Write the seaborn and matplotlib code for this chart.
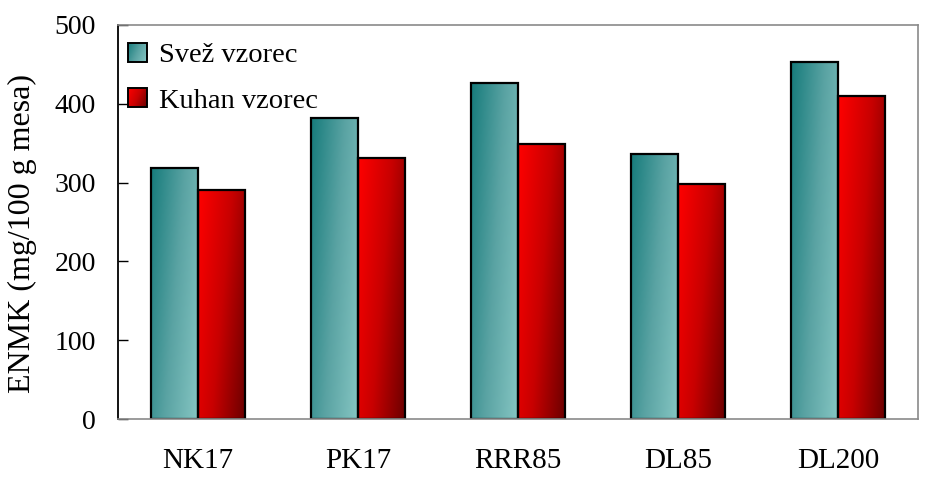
import numpy as np
import pandas as pd
import matplotlib
matplotlib.use("Agg")
import matplotlib.pyplot as plt
import seaborn as sns
from matplotlib.colors import LinearSegmentedColormap
from matplotlib.patches import Rectangle
from matplotlib.image import BboxImage
from matplotlib.transforms import Bbox, TransformedBbox
from matplotlib.legend_handler import HandlerBase

categories = ["NK17", "PK17", "RRR85", "DL85", "DL200"]
fresh = [318, 382, 427, 336, 453]
cooked = [290, 331, 349, 298, 410]
series_names = ["Svež vzorec", "Kuhan vzorec"]
y_ticks = [0, 100, 200, 300, 400, 500]

df = pd.DataFrame({
    "vzorec": categories * 2,
    "serija": [series_names[0]] * len(categories) + [series_names[1]] * len(categories),
    "ENMK": fresh + cooked,
})

teal_cmap = LinearSegmentedColormap.from_list("teal", ["#177c7c", "#5aa3a3", "#86c6c3"])
red_cmap = LinearSegmentedColormap.from_list("red", ["#ff0000", "#c80000", "#6a0000"])
cmaps = {series_names[0]: teal_cmap, series_names[1]: red_cmap}


def diagonal_gradient(n=64):
    xx, yy = np.meshgrid(np.linspace(0, 1, n), np.linspace(0, 1, n))
    # top-left dark/bright, bottom-right light/dark (origin upper)
    return np.clip(0.8 * xx + 0.35 * yy, 0, 1.15) / 1.15


sns.set_theme(style="white")
plt.rcParams["font.family"] = ["Liberation Serif", "DejaVu Serif"]
plt.rcParams["text.color"] = "black"
plt.rcParams["axes.labelcolor"] = "black"

fig = plt.figure(figsize=(9.26, 4.78), dpi=100)
ax = fig.add_axes([0.1274, 0.1234, 0.864, 0.8243])

sns.barplot(data=df, x="vzorec", y="ENMK", hue="serija", order=categories,
            hue_order=series_names, width=0.59, gap=0, ax=ax,
            palette=["#4f9c9c", "#c00000"], edgecolor="black", linewidth=1.6,
            legend=False)

grad = diagonal_gradient()
for i, container in enumerate(ax.containers):
    cmap = cmaps[series_names[i]]
    for bar in container:
        x0, y0 = bar.get_x(), bar.get_y()
        w, h = bar.get_width(), bar.get_height()
        img = ax.imshow(grad, cmap=cmap, vmin=0, vmax=1, origin="upper",
                        extent=[x0, x0 + w, y0, y0 + h], aspect="auto",
                        zorder=bar.get_zorder() + 0.1, interpolation="bilinear")
        img.set_clip_path(bar)
        bar.set_facecolor("none")
        bar.set_zorder(bar.get_zorder() + 0.2)

ax.set_xlim(-0.5, len(categories) - 0.5)
ax.set_ylim(0, 500)
ax.set_yticks(y_ticks)
ax.tick_params(axis="y", which="major", direction="in", length=7.5, width=1.0,
               color="black", labelsize=20, pad=16, left=True,
               labelcolor="black")
ax.tick_params(axis="x", length=0, labelsize=21, pad=21, labelcolor="black")
ax.set_xlabel("")
ax.set_ylabel("ENMK (mg/100 g mesa)", fontsize=23, color="black")
ax.yaxis.set_label_coords(-0.101, 0.47)

for side in ["top", "right", "bottom"]:
    ax.spines[side].set_color("#8a8a8a")
    ax.spines[side].set_linewidth(1.2)
ax.spines["left"].set_color("black")
ax.spines["left"].set_linewidth(1.3)


class GradientHandler(HandlerBase):
    def __init__(self, cmap):
        super().__init__()
        self.cmap = cmap

    def create_artists(self, legend, orig_handle, xdescent, ydescent, width,
                       height, fontsize, trans):
        side = min(width, height) * 0.95
        x0 = -xdescent + (width - side) / 2
        y0 = -ydescent + (height - side) / 2
        bbox = TransformedBbox(Bbox.from_bounds(x0, y0, side, side), trans)
        im = BboxImage(bbox, cmap=self.cmap, norm=plt.Normalize(0, 1),
                       interpolation="bilinear")
        im.set_data(grad)
        frame = Rectangle((x0, y0), side, side, facecolor="none",
                          edgecolor="black", linewidth=1.4, transform=trans)
        return [im, frame]


handles = [Rectangle((0, 0), 1, 1), Rectangle((0, 0), 1, 1)]
leg = ax.legend(handles, series_names, loc="upper left", frameon=False,
                fontsize=20.5, handlelength=0.7, handleheight=0.7,
                handletextpad=0.4, labelspacing=0.7,
                borderaxespad=0.2, bbox_to_anchor=(-0.009, 1.0),
                labelcolor="black",
                handler_map={handles[0]: GradientHandler(teal_cmap),
                             handles[1]: GradientHandler(red_cmap)})

fig.savefig("out.png", dpi=100)
